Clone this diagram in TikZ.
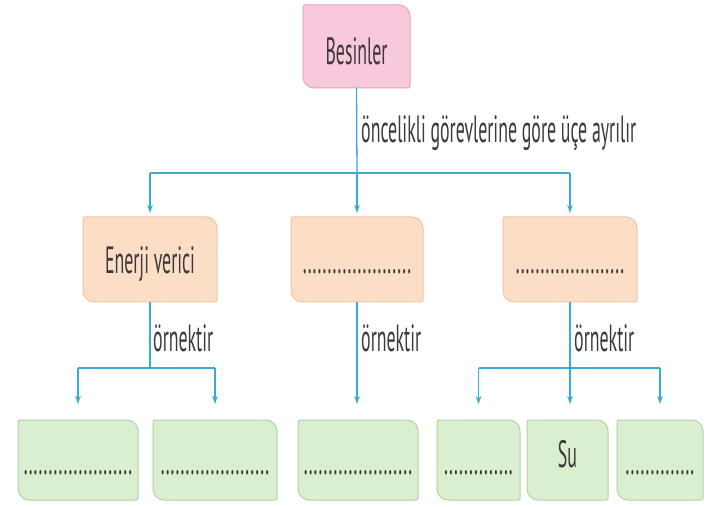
\documentclass[tikz,border=0pt]{standalone}
\usepackage{fontspec}
\setmainfont[FakeStretch=0.47]{PT Sans}
\usetikzlibrary{arrows.meta,backgrounds,calc}
\definecolor{ln}{RGB}{58,170,214}
\definecolor{txt}{RGB}{62,56,60}
\definecolor{pinkf}{RGB}{248,200,220}
\definecolor{pinkd}{RGB}{232,165,195}
\definecolor{peachf}{RGB}{252,222,198}
\definecolor{peachd}{RGB}{238,198,165}
\definecolor{greenf}{RGB}{218,238,208}
\definecolor{greend}{RGB}{180,212,166}
\newcommand\tagshape[3]{%
 \path[fill=#2,draw=#3,line width=1pt] let \p1=(#1.south west), \p2=(#1.north east) in
 (\x1,\y2-2pt) -- (\x1,\y1+11pt) arc[start angle=180,end angle=270,radius=11pt]
 -- (\x2-2pt,\y1) arc[start angle=270,end angle=360,radius=2pt]
 -- (\x2,\y2-11pt) arc[start angle=0,end angle=90,radius=11pt]
 -- (\x1+2pt,\y2) arc[start angle=90,end angle=180,radius=2pt] -- cycle;}
\tikzset{
 bx/.style={inner sep=0pt, outer sep=0pt, text=txt, text depth=0pt},
 con/.style={draw=ln, line width=1.3pt},
 arr/.style={con, -{Stealth[length=8pt,width=5.5pt]}},
 lbl/.style={anchor=west, inner sep=0pt, text=txt},
}
\begin{document}
\begin{tikzpicture}[x=1pt,y=1pt,font=\fontsize{38}{42}\selectfont]
\useasboundingbox (0,0) rectangle (708,506);
% top
\node[bx,minimum width=107pt,minimum height=83pt,text height=37pt] (bes) at (356.5,459.5) {Besinler};
% middle row
\node[bx,minimum width=134pt,minimum height=85pt,text height=29pt] (en) at (150,246.5) {Enerji verici};
\node[bx,minimum width=132pt,minimum height=85pt,text height=29pt] (mid) at (357,246.5) {......................};
\node[bx,minimum width=134pt,minimum height=85pt,text height=29pt] (rt) at (570,246.5) {......................};
% bottom row
\node[bx,minimum width=120pt,minimum height=80pt,text height=28pt] (b1) at (78,46) {......................};
\node[bx,minimum width=124pt,minimum height=80pt,text height=28pt] (b2) at (215,46) {......................};
\node[bx,minimum width=120pt,minimum height=80pt,text height=28pt] (b3) at (358,46) {......................};
\node[bx,minimum width=83pt,minimum height=80pt,text height=28pt] (b4) at (478.5,46) {..............};
\node[bx,minimum width=81pt,minimum height=80pt,text height=14pt] (b5) at (567.5,46) {Su};
\node[bx,minimum width=86pt,minimum height=80pt,text height=28pt] (b6) at (660,46) {..............};
% labels
\node[lbl] (l1) at (361,373) {öncelikli görevlerine göre üçe ayrılır};
\node[lbl] (l2) at (153,168) {örnektir};
\node[lbl] (l3) at (361,168) {örnektir};
\node[lbl] (l4) at (574,168) {örnektir};
% connectors level 1
\coordinate (j1) at (357,333);
\draw[con] (bes.south) -- (j1);
\draw[con] (en.north |- j1) -- (rt.north |- j1);
\draw[arr,shorten >=4pt] (en.north |- j1) -- (en.north);
\draw[arr,shorten >=4pt] (j1) -- (mid.north);
\draw[arr,shorten >=4pt] (rt.north |- j1) -- (rt.north);
% left group
\coordinate (j2) at (150,138);
\draw[con] (en.south) -- (j2);
\draw[con] (b1.north |- j2) -- (b2.north |- j2);
\draw[arr,shorten >=16pt] (b1.north |- j2) -- (b1.north);
\draw[arr,shorten >=16pt] (b2.north |- j2) -- (b2.north);
% middle
\draw[arr,shorten >=16pt] (mid.south) -- (mid.south |- b3.north);
% right group
\coordinate (j3) at (570,138);
\draw[con] (rt.south) -- (j3);
\draw[con] (b4.north |- j3) -- (b6.north |- j3);
\draw[arr,shorten >=16pt] (b4.north |- j3) -- (b4.north);
\draw[arr,shorten >=16pt] (j3) -- (j3 |- b5.north);
\draw[arr,shorten >=16pt] (b6.north |- j3) -- (b6.north);
% shapes
\begin{scope}[on background layer]
\fill[white] (0,0) rectangle (708,506);
\tagshape{bes}{pinkf}{pinkd}
\tagshape{en}{peachf}{peachd}
\tagshape{mid}{peachf}{peachd}
\tagshape{rt}{peachf}{peachd}
\tagshape{b1}{greenf}{greend}
\tagshape{b2}{greenf}{greend}
\tagshape{b3}{greenf}{greend}
\tagshape{b4}{greenf}{greend}
\tagshape{b5}{greenf}{greend}
\tagshape{b6}{greenf}{greend}
\end{scope}
\end{tikzpicture}
\end{document}
